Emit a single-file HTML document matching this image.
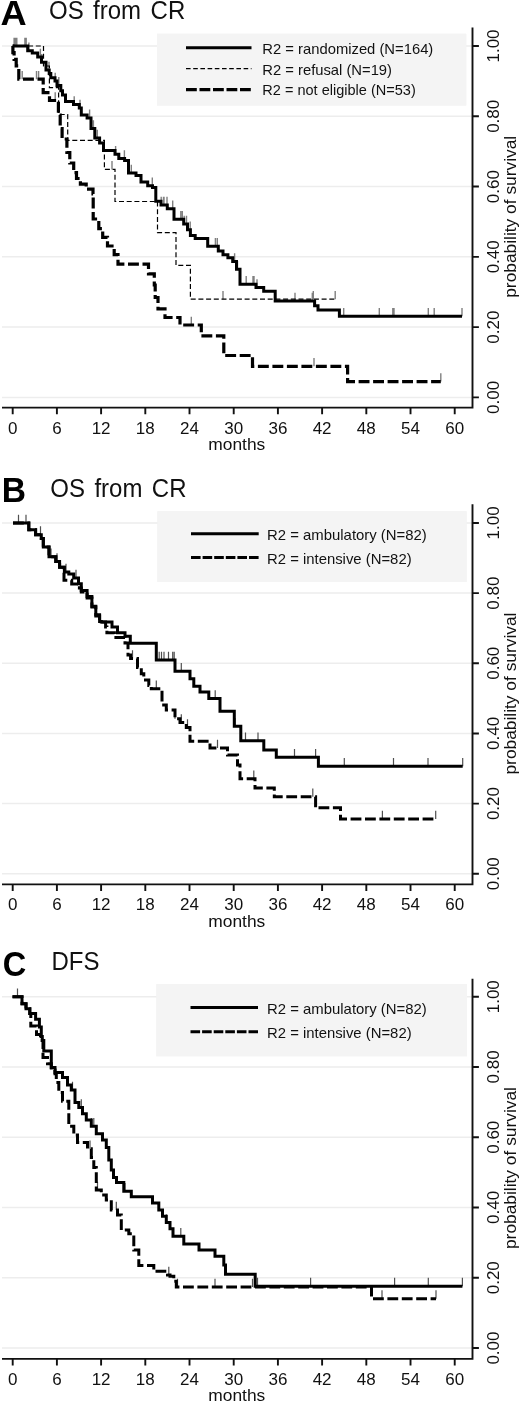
<!DOCTYPE html>
<html><head><meta charset="utf-8"><title>Kaplan-Meier survival</title>
<style>
html,body{margin:0;padding:0;background:#fff;}
svg{display:block;font-family:"Liberation Sans",sans-serif;}
.ax{stroke:#111;stroke-width:1.9;fill:none}
.grid{stroke:#ededed;stroke-width:1.5}
.c1{stroke:#000;stroke-width:3;fill:none;stroke-linejoin:miter}
.c2{stroke:#000;stroke-width:1.2;fill:none;stroke-dasharray:5 2.7}
.c3{stroke:#000;stroke-width:3.2;fill:none;stroke-dasharray:10.9 3.6}
.c4{stroke:#000;stroke-width:3;fill:none;stroke-dasharray:10.8 3.6}
.cen2{stroke:#505050;stroke-width:1.2;fill:none}
.cen{stroke:#808080;stroke-width:1.4;fill:none}
.tk{font-size:17px;fill:#111}
.lg{font-size:14.5px;fill:#111}
.ttl{font-size:25px;fill:#111;word-spacing:2.9px}
.ltr{font-size:35.2px;font-weight:bold;fill:#000}
</style></head><body>
<svg width="520" height="1403" viewBox="0 0 520 1403">
<rect width="520" height="1403" fill="#fff"/>
<g transform="translate(0,0.0)">
<rect x="157" y="33.75" width="309.3" height="71.75" fill="#f4f4f4"/>
<line class="grid" x1="2" x2="472" y1="397.40" y2="397.40"/>
<line class="grid" x1="2" x2="472" y1="327.12" y2="327.12"/>
<line class="grid" x1="2" x2="472" y1="256.84" y2="256.84"/>
<line class="grid" x1="2" x2="472" y1="186.56" y2="186.56"/>
<line class="grid" x1="2" x2="472" y1="116.28" y2="116.28"/>
<line class="grid" x1="2" x2="472" y1="46.00" y2="46.00"/>
<rect x="157" y="33.75" width="309.3" height="71.75" fill="#f4f4f4"/>
<path class="ax" d="M2 407.6H472.5V27.5"/>
<path class="ax" d="M12.70 407.6V414.2M56.90 407.6V414.2M101.10 407.6V414.2M145.31 407.6V414.2M189.51 407.6V414.2M233.71 407.6V414.2M277.91 407.6V414.2M322.11 407.6V414.2M366.32 407.6V414.2M410.52 407.6V414.2M454.72 407.6V414.2M472.5 397.40H478.9M472.5 327.12H478.9M472.5 256.84H478.9M472.5 186.56H478.9M472.5 116.28H478.9M472.5 46.00H478.9"/>
<text class="tk" x="12.7" y="433.6" text-anchor="middle">0</text>
<text class="tk" x="56.9" y="433.6" text-anchor="middle">6</text>
<text class="tk" x="101.1" y="433.6" text-anchor="middle">12</text>
<text class="tk" x="145.3" y="433.6" text-anchor="middle">18</text>
<text class="tk" x="189.5" y="433.6" text-anchor="middle">24</text>
<text class="tk" x="233.7" y="433.6" text-anchor="middle">30</text>
<text class="tk" x="277.9" y="433.6" text-anchor="middle">36</text>
<text class="tk" x="322.1" y="433.6" text-anchor="middle">42</text>
<text class="tk" x="366.3" y="433.6" text-anchor="middle">48</text>
<text class="tk" x="410.5" y="433.6" text-anchor="middle">54</text>
<text class="tk" x="454.7" y="433.6" text-anchor="middle">60</text>
<text class="tk" x="236.8" y="450.2" text-anchor="middle" textLength="57" lengthAdjust="spacingAndGlyphs">months</text>
<text class="tk" transform="translate(499.3,397.4) rotate(-90)" text-anchor="middle">0.00</text>
<text class="tk" transform="translate(499.3,327.1) rotate(-90)" text-anchor="middle">0.20</text>
<text class="tk" transform="translate(499.3,256.8) rotate(-90)" text-anchor="middle">0.40</text>
<text class="tk" transform="translate(499.3,186.6) rotate(-90)" text-anchor="middle">0.60</text>
<text class="tk" transform="translate(499.3,116.3) rotate(-90)" text-anchor="middle">0.80</text>
<text class="tk" transform="translate(499.3,46.0) rotate(-90)" text-anchor="middle">1.00</text>
<text class="tk" transform="translate(515.6,216.8) rotate(-90)" text-anchor="middle" textLength="162" lengthAdjust="spacingAndGlyphs">probability of survival</text>
<text class="ltr" transform="translate(0.4,24.6) scale(1.03,1)">A</text>
<text class="ttl" transform="translate(49.0,18.95) scale(0.96,1)">OS from CR</text>
<path class="c1" d="M186 47.7H251.5"/>
<text class="lg" x="262.3" y="53.6" textLength="171" lengthAdjust="spacingAndGlyphs">R2 = randomized (N=164)</text>
<path class="c2" style="stroke-dasharray:4.6 2.6" d="M186 68.6H251.5"/>
<text class="lg" x="262.3" y="74.5" textLength="129.7" lengthAdjust="spacingAndGlyphs">R2 = refusal (N=19)</text>
<path class="c3" style="stroke-dasharray:10.8 2.7" d="M186 89.6H251.5"/>
<text class="lg" x="262.3" y="95.4" textLength="153.5" lengthAdjust="spacingAndGlyphs">R2 = not eligible (N=53)</text>
<path class="cen" d="M14.1 46.0v-8.3M15.5 46.0v-8.3M16.8 46.0v-8.3M24.9 46.0v-8.3M26.2 46.0v-8.3M28.9 50.8v-8.3M40.4 57.0v-8.3M41.7 62.3v-8.3M49.0 70.0v-8.3M55.2 81.0v-8.3M58.8 85.4v-8.3M74.2 104.5v-8.3M80.0 108.0v-8.3M89.6 117.9v-8.3M91.5 128.5v-8.3M93.4 128.5v-8.3M95.4 138.0v-8.3M97.3 138.0v-8.3M104.0 150.4v-8.3M115.6 154.3v-8.3M124.4 158.6v-8.3M131.3 173.0v-8.3M152.3 185.8v-8.3M161.2 205.0v-8.3M164.0 205.0v-8.3M167.0 205.0v-8.3M172.7 208.7v-8.3M182.3 219.2v-8.3M184.2 224.0v-8.3M163.5 205.0v-8.3M180.8 219.2v-8.3M186.5 224.0v-8.3M190.2 229.8v-8.3M215.4 246.2v-8.3M217.3 246.2v-8.3M234.6 261.5v-8.3M237.5 269.2v-8.3M246.2 284.2v-8.3M253.0 284.2v-8.3M254.0 284.2v-8.3M257.0 287.5v-8.3M295.0 301.0v-8.3M312.3 301.0v-8.3M343.7 316.2v-8.3M379.3 316.2v-8.3M392.8 316.2v-8.3M394.0 316.2v-8.3M428.3 316.2v-8.3M434.2 316.2v-8.3M462.0 316.2v-8.3M112.0 169.4v-8.3M223.0 299.2v-8.3M313.3 299.2v-8.3M335.2 299.2v-8.3M22.2 79.2v-8.3M36.5 79.2v-8.3M38.6 79.2v-8.3M55.2 100.5v-8.3M191.3 325.0v-8.3M314.0 366.3v-8.3M440.8 381.6v-8.3"/>
<path class="c2" d="M12.7 46.0H43.5V66.0H49.4V87.6H58.6V114.5H67.7V140.4H104.4V169.4H115.0V201.5H157.5V232.7H176.0V265.4H190.4V299.2H335.2"/>
<path class="c3" d="M12.7 46.0H12.9V52.6H14.1V59.3H16.2V65.9H18.8V79.2H43.2V92.6H49.5V100.5H58.4V115.0H60.2V128.5H62.1V139.0H66.9V152.5H69.8V163.0H73.7V172.7H76.5V178.5H80.4V184.2H86.2V189.2H93.0V194.0H93.2V219.0H98.8V228.7H102.7V237.3H107.5V246.0H114.2V254.6H118.0V264.2H148.5V273.8H154.3V285.0H155.2V297.5H158.0V308.8H165.0V317.5H180.0V325.0H201.3V335.8H223.8V355.5H252.5V366.3H347.6V381.6H440.8"/>
<path class="c1" d="M12.7 46.0H25.4V46.0H27.7V50.8H32.3V53.0H37.7V57.0H41.5V62.3H46.0V70.0H49.2V73.5H50.8V77.7H55.0V81.0H57.0V85.4H60.8V90.8H62.5V95.0H65.5V101.5H73.5V104.5H79.3V108.0H81.3V115.0H87.1V117.9H91.0V128.5H94.8V138.0H99.6V142.9H103.5V150.4H115.0V154.3H118.8V158.6H124.6V160.5H128.5V173.0H136.0V175.5H141.0V182.0H147.7V185.8H152.5V187.6H155.8V201.3H161.0V205.0H167.3V208.7H174.0V219.2H183.7V224.0H187.5V229.8H190.4V235.6H195.2V238.5H207.7V246.2H218.3V251.0H223.0V254.8H227.9V257.7H232.7V261.5H236.5V269.2H240.0V284.2H256.0V287.5H263.7V291.3H275.2V301.0H314.6V305.8H318.0V309.9H339.4V316.2H462.0"/>
</g>
<g transform="translate(0,476.75)">
<rect x="157.4" y="34.5" width="309.20000000000005" height="70.8" fill="#f4f4f4"/>
<line class="grid" x1="2" x2="472" y1="397.00" y2="397.00"/>
<line class="grid" x1="2" x2="472" y1="326.84" y2="326.84"/>
<line class="grid" x1="2" x2="472" y1="256.68" y2="256.68"/>
<line class="grid" x1="2" x2="472" y1="186.52" y2="186.52"/>
<line class="grid" x1="2" x2="472" y1="116.36" y2="116.36"/>
<line class="grid" x1="2" x2="472" y1="46.20" y2="46.20"/>
<rect x="157.4" y="34.5" width="309.20000000000005" height="70.8" fill="#f4f4f4"/>
<path class="ax" d="M2 407.6H472.5V27.5"/>
<path class="ax" d="M12.70 407.6V414.2M56.90 407.6V414.2M101.10 407.6V414.2M145.31 407.6V414.2M189.51 407.6V414.2M233.71 407.6V414.2M277.91 407.6V414.2M322.11 407.6V414.2M366.32 407.6V414.2M410.52 407.6V414.2M454.72 407.6V414.2M472.5 397.00H478.9M472.5 326.84H478.9M472.5 256.68H478.9M472.5 186.52H478.9M472.5 116.36H478.9M472.5 46.20H478.9"/>
<text class="tk" x="12.7" y="433.6" text-anchor="middle">0</text>
<text class="tk" x="56.9" y="433.6" text-anchor="middle">6</text>
<text class="tk" x="101.1" y="433.6" text-anchor="middle">12</text>
<text class="tk" x="145.3" y="433.6" text-anchor="middle">18</text>
<text class="tk" x="189.5" y="433.6" text-anchor="middle">24</text>
<text class="tk" x="233.7" y="433.6" text-anchor="middle">30</text>
<text class="tk" x="277.9" y="433.6" text-anchor="middle">36</text>
<text class="tk" x="322.1" y="433.6" text-anchor="middle">42</text>
<text class="tk" x="366.3" y="433.6" text-anchor="middle">48</text>
<text class="tk" x="410.5" y="433.6" text-anchor="middle">54</text>
<text class="tk" x="454.7" y="433.6" text-anchor="middle">60</text>
<text class="tk" x="236.8" y="450.2" text-anchor="middle" textLength="57" lengthAdjust="spacingAndGlyphs">months</text>
<text class="tk" transform="translate(499.3,397.0) rotate(-90)" text-anchor="middle">0.00</text>
<text class="tk" transform="translate(499.3,326.8) rotate(-90)" text-anchor="middle">0.20</text>
<text class="tk" transform="translate(499.3,256.7) rotate(-90)" text-anchor="middle">0.40</text>
<text class="tk" transform="translate(499.3,186.5) rotate(-90)" text-anchor="middle">0.60</text>
<text class="tk" transform="translate(499.3,116.4) rotate(-90)" text-anchor="middle">0.80</text>
<text class="tk" transform="translate(499.3,46.2) rotate(-90)" text-anchor="middle">1.00</text>
<text class="tk" transform="translate(515.6,216.8) rotate(-90)" text-anchor="middle" textLength="162" lengthAdjust="spacingAndGlyphs">probability of survival</text>
<text class="ltr" transform="translate(1.7,25.45) scale(0.955,1)">B</text>
<text class="ttl" transform="translate(50.3,19.9) scale(0.96,1)">OS from CR</text>
<path class="c1" d="M191 57H258.7"/>
<text class="lg" x="267" y="63" textLength="159.8" lengthAdjust="spacingAndGlyphs">R2 = ambulatory (N=82)</text>
<path class="c4" style="stroke-dasharray:9.6 2" d="M191 80.75H258.7"/>
<text class="lg" x="267" y="87.4" textLength="144.6" lengthAdjust="spacingAndGlyphs">R2 = intensive (N=82)</text>
<path class="cen2" d="M18.5 46.2v-8.3M26.0 46.2v-8.3M40.5 57.9v-8.3M51.0 80.0v-8.3M57.0 84.8v-8.3M66.0 95.2v-8.3M76.0 101.2v-8.3M159.2 183.2v-8.3M161.5 183.2v-8.3M164.0 183.2v-8.3M168.5 183.2v-8.3M172.7 183.2v-8.3M174.2 183.2v-8.3M181.3 194.6v-8.3M215.2 221.7v-8.3M235.0 249.6v-8.3M245.5 264.1v-8.3M258.0 264.1v-8.3M294.5 280.6v-8.3M315.6 280.6v-8.3M344.3 289.6v-8.3M393.5 289.6v-8.3M428.0 289.6v-8.3M462.7 289.6v-8.3M132.5 181.8v-8.3M156.3 212.1v-8.3M175.0 242.1v-8.3M181.3 245.8v-8.3M187.5 250.8v-8.3M217.5 271.2v-8.3M253.8 302.1v-8.3M312.8 320.1v-8.3M382.4 342.2v-8.3M435.7 342.2v-8.3"/>
<path class="c4" d="M13.0 46.2H28.8V53.0H35.6V57.9H41.3V61.8H43.3V70.2H49.0V80.0H55.8V84.8H59.6V90.5H64.0V103.5H71.7V107.2H79.4V111.2H81.3V115.2H87.1V121.2H91.9V130.2H95.8V139.2H99.6V145.2H105.6V150.2H106.9V156.1H114.4V160.8H125.0V166.2H128.0V178.2H130.6V181.8H137.5V190.8H141.3V197.1H143.8V203.2H148.8V208.8H151.3V212.1H162.0V228.2H166.3V233.2H175.0V242.1H180.0V245.8H186.3V250.8H190.0V264.6H210.0V271.2H227.5V278.2H237.5V288.2H240.0V302.1H255.0V311.2H274.3V320.1H315.6V331.1H340.5V342.2H435.7"/>
<path class="c1" d="M13.0 46.2H28.8V53.0H35.6V57.9H41.3V61.8H43.3V70.2H49.0V80.0H55.8V84.8H59.6V90.5H64.4V95.2H68.8V97.2H73.7V101.2H78.5V107.0H81.3V113.8H87.1V119.8H91.9V129.4H95.8V138.1H99.6V144.8H101.3V145.2H112.0V150.2H117.5V156.1H125.0V159.6H130.3V166.4H156.3V183.2H175.0V194.6H190.0V202.1H193.8V209.6H200.0V215.2H208.8V221.7H220.0V234.6H234.3V249.6H240.8V264.1H263.8V273.2H276.3V280.6H318.4V289.6H462.7"/>
</g>
<g transform="translate(0,951.25)">
<rect x="156.3" y="33.0" width="310.7" height="72.0" fill="#f4f4f4"/>
<line class="grid" x1="2" x2="472" y1="396.75" y2="396.75"/>
<line class="grid" x1="2" x2="472" y1="326.50" y2="326.50"/>
<line class="grid" x1="2" x2="472" y1="256.25" y2="256.25"/>
<line class="grid" x1="2" x2="472" y1="186.00" y2="186.00"/>
<line class="grid" x1="2" x2="472" y1="115.75" y2="115.75"/>
<line class="grid" x1="2" x2="472" y1="45.50" y2="45.50"/>
<rect x="156.3" y="33.0" width="310.7" height="72.0" fill="#f4f4f4"/>
<path class="ax" d="M2 407.6H472.5V27.5"/>
<path class="ax" d="M12.70 407.6V414.2M56.90 407.6V414.2M101.10 407.6V414.2M145.31 407.6V414.2M189.51 407.6V414.2M233.71 407.6V414.2M277.91 407.6V414.2M322.11 407.6V414.2M366.32 407.6V414.2M410.52 407.6V414.2M454.72 407.6V414.2M472.5 396.75H478.9M472.5 326.50H478.9M472.5 256.25H478.9M472.5 186.00H478.9M472.5 115.75H478.9M472.5 45.50H478.9"/>
<text class="tk" x="12.7" y="433.6" text-anchor="middle">0</text>
<text class="tk" x="56.9" y="433.6" text-anchor="middle">6</text>
<text class="tk" x="101.1" y="433.6" text-anchor="middle">12</text>
<text class="tk" x="145.3" y="433.6" text-anchor="middle">18</text>
<text class="tk" x="189.5" y="433.6" text-anchor="middle">24</text>
<text class="tk" x="233.7" y="433.6" text-anchor="middle">30</text>
<text class="tk" x="277.9" y="433.6" text-anchor="middle">36</text>
<text class="tk" x="322.1" y="433.6" text-anchor="middle">42</text>
<text class="tk" x="366.3" y="433.6" text-anchor="middle">48</text>
<text class="tk" x="410.5" y="433.6" text-anchor="middle">54</text>
<text class="tk" x="454.7" y="433.6" text-anchor="middle">60</text>
<text class="tk" x="236.8" y="450.2" text-anchor="middle" textLength="57" lengthAdjust="spacingAndGlyphs">months</text>
<text class="tk" transform="translate(499.3,396.8) rotate(-90)" text-anchor="middle">0.00</text>
<text class="tk" transform="translate(499.3,326.5) rotate(-90)" text-anchor="middle">0.20</text>
<text class="tk" transform="translate(499.3,256.2) rotate(-90)" text-anchor="middle">0.40</text>
<text class="tk" transform="translate(499.3,186.0) rotate(-90)" text-anchor="middle">0.60</text>
<text class="tk" transform="translate(499.3,115.7) rotate(-90)" text-anchor="middle">0.80</text>
<text class="tk" transform="translate(499.3,45.5) rotate(-90)" text-anchor="middle">1.00</text>
<text class="tk" transform="translate(515.6,216.8) rotate(-90)" text-anchor="middle" textLength="162" lengthAdjust="spacingAndGlyphs">probability of survival</text>
<text class="ltr" transform="translate(2.7,24.85) scale(0.925,1)">C</text>
<text class="ttl" transform="translate(51.4,18.95) scale(0.96,1)">DFS</text>
<path class="c1" d="M190.5 56.25H258"/>
<text class="lg" x="267" y="62.3" textLength="159.8" lengthAdjust="spacingAndGlyphs">R2 = ambulatory (N=82)</text>
<path class="c4" style="stroke-dasharray:9.6 2" d="M190.5 80.5H258"/>
<text class="lg" x="267" y="86.9" textLength="144.6" lengthAdjust="spacingAndGlyphs">R2 = intensive (N=82)</text>
<path class="cen2" d="M17.5 45.5v-8.3M51.3 116.2v-8.3M72.5 138.8v-8.3M81.3 156.2v-8.3M91.3 175.1v-8.3M93.8 175.1v-8.3M125.0 240.1v-8.3M166.3 271.2v-8.3M180.8 285.1v-8.3M257.5 334.9v-8.3M310.6 334.9v-8.3M394.6 334.9v-8.3M428.3 334.9v-8.3M462.4 334.9v-8.3M90.0 197.6v-8.3M97.5 238.8v-8.3M116.3 258.8v-8.3M168.8 323.8v-8.3M177.5 335.8v-8.3M215.0 335.8v-8.3M252.5 335.8v-8.3M382.0 347.4v-8.3M436.0 347.4v-8.3"/>
<path class="c4" d="M12.5 45.5H22.0V52.5H26.0V57.5H29.8V62.2H30.8V74.8H36.5V83.3H40.5V89.2H43.0V106.3H47.5V112.5H51.3V118.8H55.0V122.5H56.3V131.2H58.8V141.2H62.5V150.1H68.8V175.1H73.8V183.8H77.5V191.2H87.5V197.6H91.3V206.2H93.8V216.2H96.3V238.8H101.3V243.8H106.3V248.8H111.3V258.8H117.5V263.8H121.3V278.8H128.8V282.6H133.8V298.8H138.8V314.2H153.8V320.1H167.5V323.8H170.0V325.1H173.8V330.1H176.3V335.8H371.5V347.4H436.0"/>
<path class="c1" d="M12.5 45.5H22.0V52.5H26.0V57.5H29.8V62.2H35.6V68.0H39.4V75.8H41.3V85.2H42.3V89.2H43.8V99.8H51.3V116.2H55.0V121.2H62.5V126.2H67.5V133.8H71.3V138.8H75.0V151.2H78.8V156.2H82.5V162.6H86.3V168.8H91.3V175.1H96.3V182.6H102.5V188.8H106.3V196.2H108.8V208.8H111.3V218.8H113.5V226.2H116.5V231.2H123.8V240.1H131.3V245.6H152.5V251.8H158.8V258.8H162.5V265.1H166.3V271.2H170.0V277.6H173.0V285.1H183.8V292.8H199.0V298.8H215.0V305.1H223.8V313.8H225.5V323.1H255.2V334.9H462.4"/>
</g>
</svg></body></html>
